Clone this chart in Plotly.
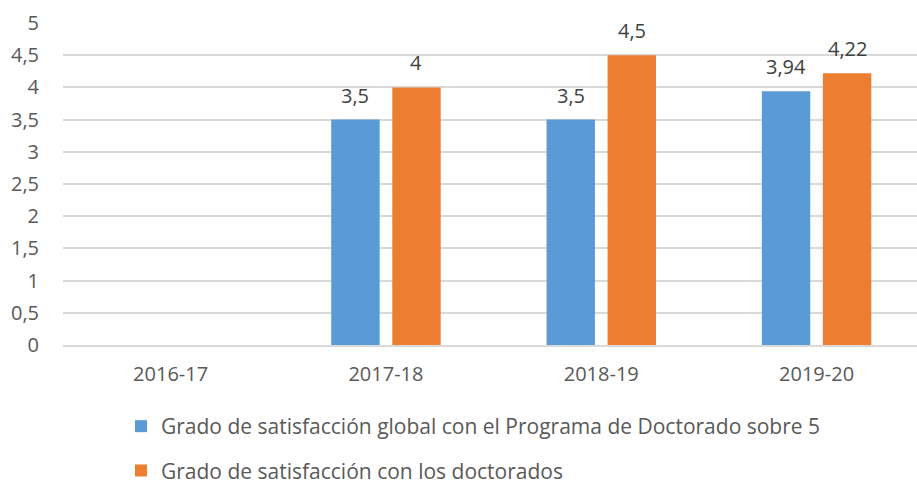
import plotly.graph_objects as go

categories = ["2016-17", "2017-18", "2018-19", "2019-20"]
global_sat = [None, 3.5, 3.5, 3.94]
doct_sat = [None, 4, 4.5, 4.22]
series_names = [
    "Grado de satisfacción global con el Programa de Doctorado sobre 5",
    "Grado de satisfacción con los doctorados",
]
colors = ["#5B9BD5", "#ED7D31"]
label_shift = [-30.5, 30.5]


def fmt(v):
    return ("%g" % v).replace(".", ",")


FONT = "Open Sans"
fig = go.Figure()
for i, (name, vals) in enumerate(zip(series_names, [global_sat, doct_sat])):
    fig.add_trace(go.Bar(
        x=categories, y=vals, name=name,
        marker=dict(color=colors[i], line=dict(width=0)),
        legendgroup="g%d" % i,
        hoverinfo="skip",
    ))
    for c, v in zip(categories, vals):
        if v is None:
            continue
        fig.add_annotation(
            x=c, y=v, text=fmt(v), showarrow=False,
            xanchor="center", yanchor="bottom",
            xshift=label_shift[i], yshift=9,
            font=dict(family=FONT, size=20, color="#404040"),
        )

fig.update_layout(
    width=917, height=485,
    margin=dict(l=63, r=0, t=22.5, b=139.5, autoexpand=False),
    paper_bgcolor="white", plot_bgcolor="white",
    font=dict(family=FONT, size=20, color="#595959"),
    separators=",.",
    barmode="group", bargap=0.433, bargroupgap=0.207,
    showlegend=True,
    legend=dict(orientation="v", x=121 / 917, xanchor="left", xref="container",
                y=1 - 406 / 485, yanchor="top", yref="container",
                tracegroupgap=14,
                font=dict(family=FONT, size=21, color="#595959"),
                bgcolor="rgba(0,0,0,0)"),
    xaxis=dict(showgrid=False, showline=True, linecolor="#D9D9D9", linewidth=1.5,
               range=[-0.5, 3.4665], automargin=False,
               ticks="", ticklabelstandoff=10, tickfont=dict(size=20)),
    yaxis=dict(range=[0, 5], dtick=0.5, showgrid=True, gridcolor="#D9D9D9",
               gridwidth=1.5, automargin=False,
               zeroline=False, showline=False, ticks="",
               ticklabelstandoff=23, tickfont=dict(size=20)),
)

fig.write_html(
    "out.html",
    config={"displayModeBar": False},
    post_script="document.body.style.margin='0';document.body.style.overflow='hidden';",
)
